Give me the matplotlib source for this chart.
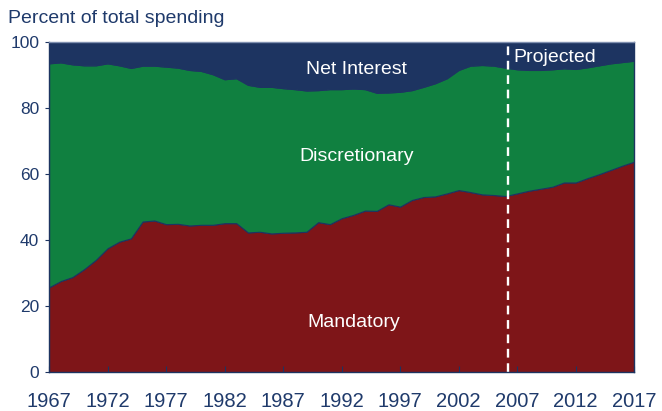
import matplotlib.pyplot as plt
import numpy as np

plt.rcParams["font.family"] = ["Liberation Sans", "DejaVu Sans"]

# shares of total spending, percent
years = np.arange(1967, 2018)
mandatory = [25.7, 27.6, 28.8, 31.2, 34.0, 37.5, 39.5, 40.5, 45.6, 45.9,
             44.8, 44.9, 44.4, 44.6, 44.6, 45.1, 45.1, 42.3, 42.5, 42.0,
             42.2, 42.3, 42.5, 45.4, 44.8, 46.6, 47.6, 48.9, 48.8, 50.8,
             50.1, 52.1, 53.0, 53.2, 54.1, 55.1, 54.5, 53.8, 53.6, 53.3,
             54.1, 54.9, 55.5, 56.1, 57.4, 57.4, 58.7, 59.9, 61.2, 62.5,
             63.7]
discretionary = [67.7, 66.1, 64.3, 61.6, 58.8, 55.9, 53.3, 51.5, 47.1, 46.8,
                 47.6, 47.2, 47.0, 46.5, 45.5, 43.5, 43.8, 44.6, 43.8, 44.3,
                 43.7, 43.3, 42.7, 39.9, 40.8, 39.0, 38.2, 36.7, 35.7, 33.8,
                 34.7, 33.2, 33.3, 34.2, 34.8, 36.3, 38.2, 39.1, 39.1, 38.8,
                 37.5, 36.5, 35.9, 35.5, 34.5, 34.3, 33.5, 32.9, 32.2, 31.3,
                 30.5]
net_interest = [6.6, 6.3, 6.9, 7.2, 7.2, 6.6, 7.2, 8.0, 7.3, 7.3,
                7.6, 7.9, 8.6, 8.9, 9.9, 11.4, 11.1, 13.1, 13.7, 13.7,
                14.1, 14.4, 14.8, 14.7, 14.4, 14.4, 14.2, 14.4, 15.5, 15.4,
                15.2, 14.7, 13.7, 12.6, 11.1, 8.6, 7.3, 7.1, 7.3, 7.9,
                8.4, 8.6, 8.6, 8.4, 8.1, 8.3, 7.8, 7.2, 6.6, 6.2,
                5.8]
projection_start = 2006.25

navy = "#1d3461"
green = "#108040"
red = "#7e1518"
text_col = "#1f3a6b"

fig = plt.figure(figsize=(6.62, 4.11), dpi=100)
ax = fig.add_axes([0.074, 0.094, 0.884, 0.805])

ax.stackplot(years, mandatory, discretionary, net_interest,
             colors=[red, green, navy], edgecolor=navy, linewidth=0.8)

ax.axvline(projection_start, color="white", linewidth=1.7, dashes=(3.7, 2.4))

ax.text(1993.3, 91.4, "Net Interest", color="white", fontsize=14,
        ha="center", va="center")
ax.text(1993.3, 65.1, "Discretionary", color="white", fontsize=14,
        ha="center", va="center")
ax.text(1993.0, 15.0, "Mandatory", color="white", fontsize=14,
        ha="center", va="center")
ax.text(2006.7, 95.3, "Projected", color="white", fontsize=14,
        ha="left", va="center")

ax.set_xlim(1967, 2017)
ax.set_ylim(0, 100)
ax.set_xticks(np.arange(1967, 2018, 5))
ax.set_yticks(np.arange(0, 101, 20))
ax.tick_params(axis="x", direction="in", length=4, width=0.8, colors=navy,
               labelcolor=text_col, labelsize=14.5, pad=14)
ax.tick_params(axis="y", direction="out", length=3, width=0.8, colors=navy,
               labelcolor=text_col, labelsize=12.5, pad=4)
for s in ax.spines.values():
    s.set_color(navy)
    s.set_linewidth(1.0)
ax.spines["top"].set_color("#8090b0")

fig.text(0.012, 0.955, "Percent of total spending", color=text_col,
         fontsize=14, ha="left", va="center")

fig.savefig("out.png", dpi=100)
